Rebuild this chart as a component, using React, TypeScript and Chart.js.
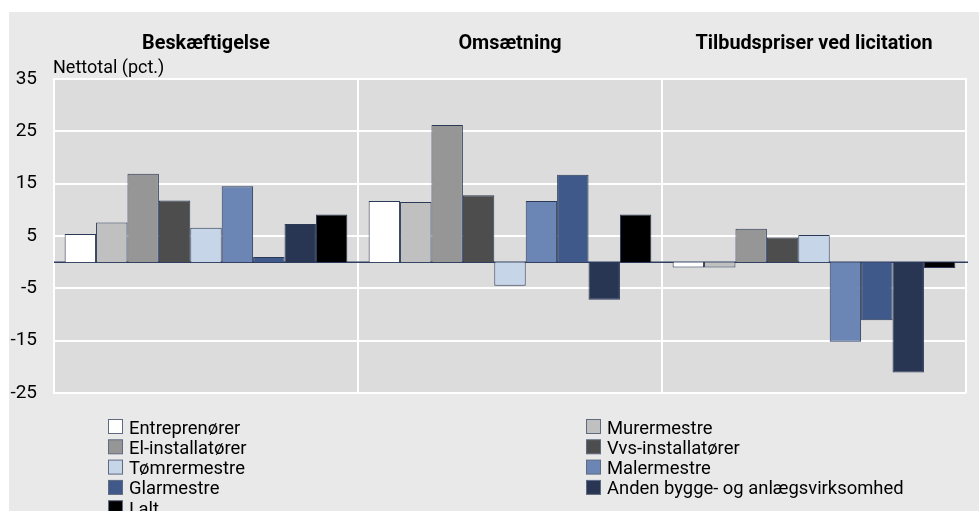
import React, { useEffect, useRef } from "react";
import { Chart, registerables } from "chart.js";

Chart.register(...registerables);

const categories = ["Beskæftigelse", "Omsætning", "Tilbudspriser ved licitation"];
const yTicks = [-25, -15, -5, 5, 15, 25, 35];
const yTitle = "Nettotal (pct.)";

const seriesNames = [
  "Entreprenører",
  "Murermestre",
  "El-installatører",
  "Vvs-installatører",
  "Tømrermestre",
  "Malermestre",
  "Glarmestre",
  "Anden bygge- og anlægsvirksomhed",
  "I alt",
];

const entreprenorer = [5.4, 11.7, -1.0];
const murermestre = [7.6, 11.5, -1.0];
const elInstallatorer = [16.9, 26.2, 6.4];
const vvsInstallatorer = [11.8, 12.8, 4.7];
const tomrermestre = [6.6, -4.5, 5.2];
const malermestre = [14.5, 11.7, -15.2];
const glarmestre = [1.0, 16.7, -11.1];
const andenBygge = [7.3, -7.2, -21.1];
const iAlt = [9.1, 9.1, -1.1];

const seriesValues = [
  entreprenorer,
  murermestre,
  elInstallatorer,
  vvsInstallatorer,
  tomrermestre,
  malermestre,
  glarmestre,
  andenBygge,
  iAlt,
];

const seriesColors = [
  "#ffffff",
  "#c0c0c0",
  "#969696",
  "#4d4d4d",
  "#c6d5e8",
  "#6b86b5",
  "#3f5a8a",
  "#283654",
  "#000000",
];

const FONT = "Roboto, 'Liberation Sans', sans-serif";

const decorPlugin = {
  id: "decor",
  beforeDraw(chart: any) {
    const { ctx, chartArea } = chart;
    ctx.save();
    ctx.fillStyle = "#e9e9e9";
    ctx.fillRect(9, 12, chart.width - 9, chart.height - 12);
    ctx.fillStyle = "#dcdcdc";
    ctx.fillRect(chartArea.left, chartArea.top, chartArea.right - chartArea.left, chartArea.bottom - chartArea.top);
    ctx.restore();
  },
  beforeDatasetsDraw(chart: any) {
    const { ctx, chartArea, scales } = chart;
    const y0 = scales.y.getPixelForValue(0);
    ctx.save();
    ctx.strokeStyle = "#2e3d5e";
    ctx.lineWidth = 1.5;
    ctx.beginPath();
    ctx.moveTo(chartArea.left, y0);
    ctx.lineTo(chartArea.right + 2, y0);
    ctx.stroke();
    ctx.restore();
  },
  afterDraw(chart: any) {
    const { ctx, chartArea } = chart;
    ctx.save();
    ctx.fillStyle = "#000";
    ctx.font = `18px ${FONT}`;
    ctx.textAlign = "left";
    ctx.textBaseline = "alphabetic";
    ctx.fillText(yTitle, chartArea.left - 1, 73);

    ctx.font = `18.4px ${FONT}`;
    chart.data.datasets.forEach((ds: any, i: number) => {
      const col = i % 2;
      const row = Math.floor(i / 2);
      const bx = col === 0 ? 108.5 : 586.5;
      const by = 419.5 + row * 20.3;
      ctx.fillStyle = ds.backgroundColor;
      ctx.fillRect(bx, by, 14, 14);
      ctx.strokeStyle = "#5f6a80";
      ctx.lineWidth = 1;
      ctx.strokeRect(bx, by, 14, 14);
      ctx.fillStyle = "#000";
      ctx.fillText(ds.label, bx + 20.5, by + 14);
    });
    ctx.restore();
  },
};

export default function App() {
  const ref = useRef<HTMLCanvasElement | null>(null);

  useEffect(() => {
    if (!ref.current) return;
    const chart = new Chart(ref.current, {
      type: "bar",
      data: {
        labels: categories,
        datasets: seriesNames.map((name, i) => ({
          label: name,
          data: seriesValues[i],
          backgroundColor: seriesColors[i],
          borderColor: "#2b3957",
          borderWidth: 1,
          categoryPercentage: 0.93,
          barPercentage: 1.0,
        })),
      },
      options: {
        responsive: false,
        animation: false,
        layout: { padding: { left: 0, right: 13, top: 0, bottom: 118 } },
        plugins: {
          legend: { display: false },
          tooltip: { enabled: false },
          title: { display: false },
        },
        scales: {
          x: {
            type: "category",
            position: "top",
            offset: true,
            grid: { offset: true, color: "#ffffff", lineWidth: 2, drawTicks: false },
            border: { display: true, color: "#ffffff", width: 2 },
            ticks: {
              font: { family: FONT, size: 19.8, weight: "bold" },
              color: "#000",
              padding: 23,
            },
            afterFit: (s: any) => {
              s.height = 79;
            },
          },
          y: {
            min: -25,
            max: 35,
            afterBuildTicks: (axis: any) => {
              axis.ticks = yTicks.map((v) => ({ value: v }));
            },
            grid: { color: "#ffffff", lineWidth: 2, drawTicks: false },
            border: { display: true, color: "#ffffff", width: 2 },
            ticks: {
              font: { family: FONT, size: 19 },
              color: "#000",
              padding: 17,
            },
            afterFit: (s: any) => {
              s.width = 54;
            },
          },
        },
      },
      plugins: [decorPlugin],
    });
    return () => chart.destroy();
  }, []);

  return (
    <div style={{ position: "fixed", left: 0, top: 0, width: 979, height: 511, background: "#fff" }}>
      <canvas ref={ref} width={979} height={511} style={{ display: "block", width: 979, height: 511 }} />
    </div>
  );
}
